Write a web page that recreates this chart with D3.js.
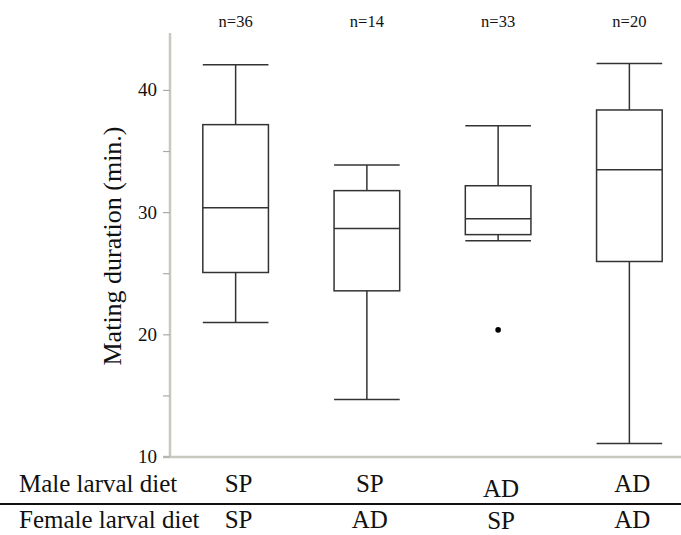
<!DOCTYPE html>
<html>
<head>
<meta charset="utf-8">
<script src="https://cdn.jsdelivr.net/npm/d3@7"></script>
<style>
body { margin: 0; background: #fff; overflow: hidden; }
</style>
</head>
<body>
<div id="chart-area"></div>
<script>
var groups = ["g1", "g2", "g3", "g4"];
var counts = ["n=36", "n=14", "n=33", "n=20"];
var maleDiet = ["SP", "SP", "AD", "AD"];
var femaleDiet = ["SP", "AD", "SP", "AD"];
// whisker low, Q1, median, Q3, whisker high
var lows = [21.0, 14.7, 27.7, 11.1];
var q1s = [25.1, 23.6, 28.2, 26.0];
var medians = [30.4, 28.7, 29.5, 33.5];
var q3s = [37.2, 31.8, 32.2, 38.4];
var highs = [42.1, 33.9, 37.1, 42.2];
var outliers = [{ g: "g3", v: 20.4 }];
var yTicks = [10, 20, 30, 40];
var yMinor = [15, 25, 35];

var width = 681, height = 535;
var svg = d3.select("#chart-area")
    .append("svg")
    .attr("width", width)
    .attr("height", height)
    .attr("font-family", "'Liberation Serif', 'Times New Roman', Times, serif")
    .attr("fill", "#111");

var x = d3.scaleBand().domain(groups).range([170, 695]).paddingInner(0.5).paddingOuter(0.25);
var y = d3.scaleLinear().domain([10, 44.7]).range([457, 33]);

var data = groups.map((g, i) => {
    return { g: g, lo: lows[i], q1: q1s[i], med: medians[i], q3: q3s[i], hi: highs[i] };
});

// axes
svg.append("line")
    .attr("x1", 170).attr("x2", 170)
    .attr("y1", y(44.7)).attr("y2", y(10))
    .attr("stroke", "#c8c8c0").attr("stroke-width", 2.5);
svg.append("line")
    .attr("x1", 163).attr("x2", width)
    .attr("y1", y(10)).attr("y2", y(10))
    .attr("stroke", "#c8c8c0").attr("stroke-width", 2.5);

svg.selectAll(".tick").data(yTicks.concat(yMinor)).enter()
    .append("line")
    .attr("x1", 163).attr("x2", 170)
    .attr("y1", (d) => y(d)).attr("y2", (d) => y(d))
    .attr("stroke", "#aaa").attr("stroke-width", 1.2);

svg.selectAll(".tlab").data(yTicks).enter()
    .append("text")
    .attr("x", 157)
    .attr("y", (d) => y(d) + 6)
    .attr("text-anchor", "end")
    .attr("font-size", 19)
    .text((d) => d);

svg.append("text")
    .attr("transform", "translate(121,246) rotate(-90)")
    .attr("text-anchor", "middle")
    .attr("font-size", 26)
    .text("Mating duration (min.)");

// boxes
var box = svg.selectAll(".box").data(data).enter().append("g");
var cx = (d) => x(d.g) + x.bandwidth() / 2;
box.append("line")
    .attr("x1", cx).attr("x2", cx)
    .attr("y1", (d) => y(d.hi)).attr("y2", (d) => y(d.lo))
    .attr("stroke", "#333").attr("stroke-width", 1.5);
box.append("rect")
    .attr("x", (d) => x(d.g))
    .attr("width", x.bandwidth())
    .attr("y", (d) => y(d.q3))
    .attr("height", (d) => y(d.q1) - y(d.q3))
    .attr("fill", "#fff")
    .attr("stroke", "#333").attr("stroke-width", 1.5);
["hi", "med", "lo"].forEach((k) => {
    box.append("line")
        .attr("x1", (d) => x(d.g)).attr("x2", (d) => x(d.g) + x.bandwidth())
        .attr("y1", (d) => y(d[k])).attr("y2", (d) => y(d[k]))
        .attr("stroke", "#333").attr("stroke-width", 1.5);
});

svg.selectAll(".out").data(outliers).enter()
    .append("circle")
    .attr("cx", (d) => x(d.g) + x.bandwidth() / 2)
    .attr("cy", (d) => y(d.v))
    .attr("r", 2.8)
    .attr("fill", "#000");

// n labels
svg.selectAll(".n").data(counts).enter()
    .append("text")
    .attr("x", (d, i) => x(groups[i]) + x.bandwidth() / 2)
    .attr("y", 27)
    .attr("text-anchor", "middle")
    .attr("font-size", 16.5)
    .text((d) => d);

// diet table
svg.append("text").attr("x", 19).attr("y", 492).attr("font-size", 25).text("Male larval diet");
svg.append("text").attr("x", 19).attr("y", 528).attr("font-size", 25).text("Female larval diet");
svg.append("line")
    .attr("x1", 0).attr("x2", width)
    .attr("y1", 504).attr("y2", 504)
    .attr("stroke", "#111").attr("stroke-width", 2);

svg.selectAll(".male").data(maleDiet).enter()
    .append("text")
    .attr("x", (d, i) => x(groups[i]) + x.bandwidth() / 2 + 3)
    .attr("y", (d, i) => i == 2 ? 497 : 492)
    .attr("text-anchor", "middle")
    .attr("font-size", 25)
    .text((d) => d);
svg.selectAll(".female").data(femaleDiet).enter()
    .append("text")
    .attr("x", (d, i) => x(groups[i]) + x.bandwidth() / 2 + 3)
    .attr("y", (d, i) => i == 2 ? 529 : 528)
    .attr("text-anchor", "middle")
    .attr("font-size", 25)
    .text((d) => d);
</script>
</body>
</html>
